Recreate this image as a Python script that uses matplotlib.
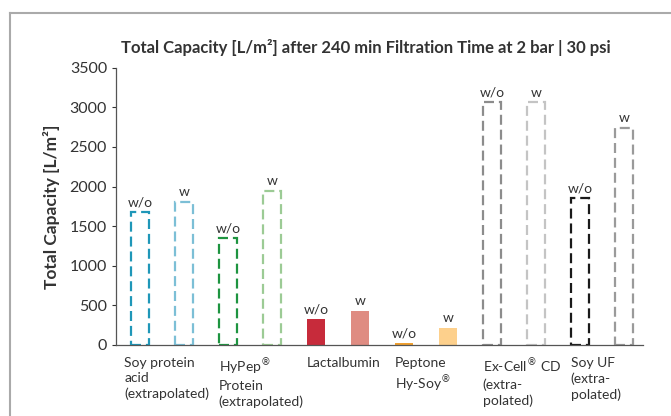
import numpy as np
import matplotlib.pyplot as plt
from matplotlib.lines import Line2D

plt.rcParams['font.family'] = ['Lato', 'DejaVu Sans']

# Data
categories = ["Soy protein\nacid\n(extrapolated)", "HyPep$^{®}$\nProtein\n(extrapolated)",
              "Lactalbumin", "Peptone\nHy-Soy$^{®}$", "Ex-Cell$^{®}$ CD\n(extra-\npolated)",
              "Soy UF\n(extra-\npolated)"]
values_wo = [1680, 1350, 330, 20, 3065, 1855]
values_w = [1805, 1945, 430, 215, 3065, 2740]
extrapolated = [True, True, False, False, True, True]
colors_wo = ["#1f97b8", "#1e9440", "#c72b3b", "#f0a030", "#8c8c8c", "#1a1a1a"]
colors_w = ["#7cbfd6", "#9ccb95", "#df8c82", "#fdd08c", "#c4c4c4", "#9a9a9a"]
bar_labels = ["w/o", "w"]

TEXT = "#333333"

fig = plt.figure(figsize=(6.71, 4.16), dpi=100)
ax = fig.add_axes([0.173, 0.171, 0.785, 0.666])

width = 0.42
for i, cat in enumerate(categories):
    for j, (val, col) in enumerate([(values_wo[i], colors_wo[i]), (values_w[i], colors_w[i])]):
        x = 2 * i + j
        if extrapolated[i]:
            ax.bar(x, val, width, fill=False, edgecolor=col, linewidth=1.6,
                   linestyle=(0, (4.5, 2.2)), zorder=2)
        else:
            ax.bar(x, val, width, color=col, edgecolor='none', zorder=2)
        ax.text(x, val + 45, bar_labels[j], ha='center', va='bottom',
                fontsize=10, color=TEXT)
    ax.text(2 * i - width / 2 - (0.15 if i == 0 else 0.0), -150, cat,
            ha='left', va='top', fontsize=10, color=TEXT, linespacing=1.32)

ax.set_xlim(-0.545, 11.43)
ax.set_ylim(0, 3500)
ax.set_yticks(np.arange(0, 3501, 500))
ax.set_xticks([])
ax.tick_params(axis='y', labelsize=11.5, colors=TEXT, length=3, width=0.8)
for s in ['top', 'right']:
    ax.spines[s].set_visible(False)
for s in ['left', 'bottom']:
    ax.spines[s].set_color('#555555')
    ax.spines[s].set_linewidth(0.9)

ax.set_ylabel("Total Capacity [L/m²]", fontsize=12.5, fontweight='bold', color=TEXT, labelpad=7)
fig.text(0.545, 0.887, "Total Capacity [L/m²] after 240 min Filtration Time at 2 bar | 30 psi",
         ha='center', va='center', fontsize=12, fontweight='bold', color=TEXT)

# open frame: top and left border lines
fig.add_artist(Line2D([0.0155, 1.0], [0.969, 0.969], color='#aaaaaa', linewidth=1.5))
fig.add_artist(Line2D([0.0155, 0.0155], [0.0, 0.969], color='#aaaaaa', linewidth=1.5))

fig.savefig("out.png", dpi=100)
